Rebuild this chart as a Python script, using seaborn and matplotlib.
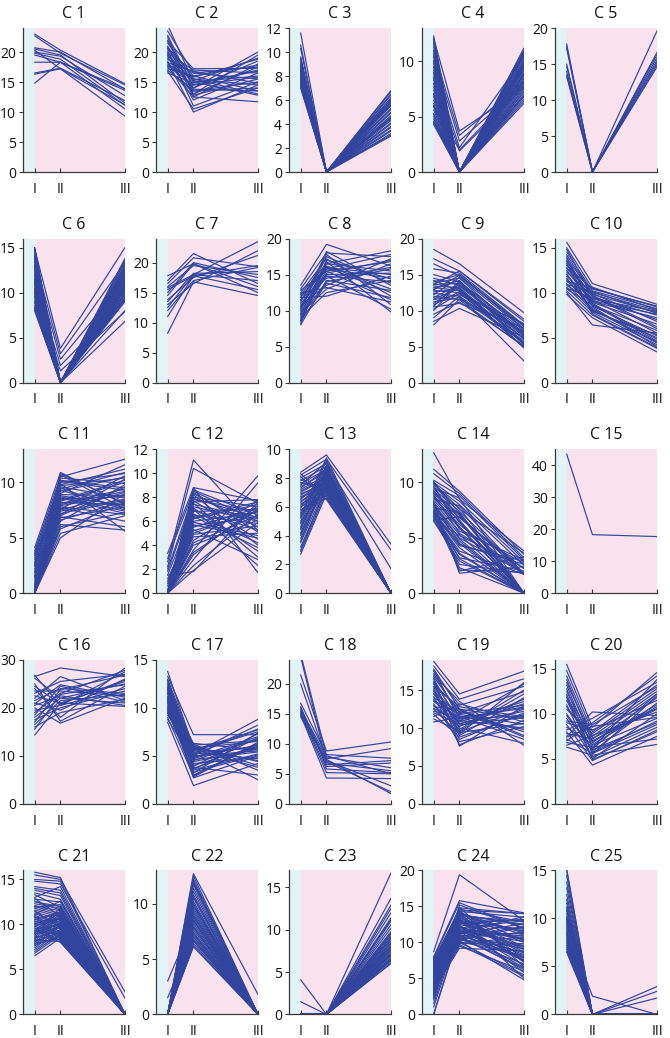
import matplotlib
matplotlib.use("Agg")
import matplotlib.pyplot as plt
import seaborn as sns
import pandas as pd

# ---------------- data: each tuple = one profile (stage I, stage II, stage III)
stages = ["I", "II", "III"]

C1 = [(23.0, 20.3, 14.7), (22.7, 19.8, 14.5), (20.7, 20.0, 13.8), (20.5, 19.5, 11.5),
      (20.0, 19.3, 12.7), (19.8, 18.8, 11.1), (19.5, 18.3, 10.5), (18.3, 18.3, 13.6),
      (16.5, 17.3, 11.9), (16.3, 17.2, 9.3), (14.8, 18.3, 13.9), (20.3, 17.2, 11.2)]
C2 = [(24.5, 15.0, 16.0), (23.5, 16.5, 17.5), (22.8, 14.0, 20.0), (22.0, 13.0, 19.5),
      (21.5, 15.5, 14.5), (21.0, 12.5, 18.0), (20.8, 16.0, 13.5), (20.5, 14.5, 17.0),
      (20.2, 11.0, 15.0), (20.0, 13.5, 14.0), (19.8, 17.0, 16.5), (19.5, 15.0, 12.8),
      (19.3, 12.0, 16.5), (19.0, 14.0, 18.5), (18.8, 16.5, 15.5), (18.5, 10.0, 14.5),
      (18.3, 13.0, 17.5), (18.0, 15.5, 13.0), (17.8, 14.5, 15.8), (17.5, 12.5, 11.7),
      (17.2, 16.0, 17.8), (17.0, 13.5, 15.0), (16.8, 10.5, 14.0), (16.5, 14.8, 16.8),
      (21.8, 17.2, 17.3), (20.6, 15.2, 19.0), (19.6, 13.8, 13.5), (18.2, 16.8, 14.8),
      (22.5, 12.8, 15.5), (17.6, 15.8, 18.8)]
C3 = [(11.6, 0, 6.8), (10.6, 0, 6.7), (10.3, 0, 6.5), (9.6, 0, 6.4), (9.4, 0, 6.2),
      (9.3, 0, 6.1), (9.1, 0, 6.0), (9.0, 0, 5.9), (8.9, 0, 5.7), (8.8, 0, 5.6),
      (8.7, 0, 5.5), (8.6, 0, 5.3), (8.5, 0, 5.2), (8.4, 0, 5.0), (8.3, 0, 4.9),
      (8.2, 0, 4.7), (8.1, 0, 4.6), (8.0, 0, 4.4), (7.9, 0, 4.3), (7.8, 0, 4.1),
      (7.7, 0, 4.0), (7.6, 0, 3.8), (7.5, 0, 3.7), (7.4, 0, 3.5), (7.3, 0, 3.4),
      (7.2, 0, 3.2), (7.1, 0, 3.1), (7.0, 0, 3.0), (9.5, 0, 5.8), (8.0, 0, 4.5)]
C4 = [(12.3, 0, 11.2), (12.0, 0, 10.9), (11.6, 0, 10.6), (11.3, 0, 11.0), (11.0, 0, 10.3),
      (10.7, 0, 10.0), (10.4, 0, 9.8), (10.1, 0, 10.5), (9.8, 0, 9.5), (9.5, 0, 9.2),
      (9.2, 0, 10.8), (8.9, 0, 9.0), (8.6, 0, 8.8), (8.3, 0, 9.6), (8.0, 0, 8.5),
      (7.7, 0, 8.2), (7.4, 0, 10.1), (7.1, 0, 8.0), (6.8, 0, 7.8), (6.5, 0, 9.3),
      (6.2, 0, 7.5), (5.9, 0, 7.2), (5.6, 0, 8.7), (5.3, 0, 7.0), (5.0, 0, 6.8),
      (4.8, 0, 9.9), (4.6, 0, 6.6), (4.4, 0, 6.4), (4.3, 0, 6.2), (4.5, 0, 8.4),
      (5.2, 0, 7.6), (6.0, 0, 9.7), (7.0, 0, 6.9), (8.0, 0, 10.7), (9.0, 0, 7.3),
      (10.0, 0, 8.9), (11.8, 0, 9.4), (12.1, 3.7, 7.6), (11.0, 3.3, 8.2), (10.5, 2.8, 7.9),
      (9.5, 2.2, 10.4), (8.5, 1.9, 7.7), (6.0, 2.0, 8.1)]
C5 = [(17.8, 0, 19.6), (17.5, 0, 16.6), (17.2, 0, 16.3), (15.0, 0, 15.9),
      (14.7, 0, 15.5), (14.0, 0, 15.2), (13.5, 0, 14.9), (13.3, 0, 14.6)]
C6 = [(15.0, 0, 13.8), (14.8, 0, 13.5), (14.5, 0, 13.2), (14.2, 0, 12.9), (14.0, 0, 12.6),
      (13.7, 0, 12.3), (13.4, 0, 12.0), (13.1, 0, 11.8), (12.8, 0, 11.5), (12.5, 0, 11.2),
      (12.2, 0, 11.0), (11.9, 0, 10.8), (11.6, 0, 10.5), (11.3, 0, 10.3), (11.0, 0, 10.0),
      (10.7, 0, 9.8), (10.4, 0, 9.5), (10.1, 0, 9.3), (9.8, 0, 9.0), (9.5, 0, 13.0),
      (9.2, 0, 12.5), (8.9, 0, 11.6), (8.6, 0, 10.9), (8.3, 0, 10.2), (8.1, 0, 9.6),
      (8.0, 0, 8.0), (9.0, 0, 6.8), (10.0, 0, 12.8), (11.0, 0, 9.1), (12.0, 0, 11.4),
      (13.0, 0, 10.6), (14.0, 0, 9.9), (15.0, 0, 12.2), (14.6, 0, 11.1), (13.5, 0, 10.4),
      (12.6, 0, 13.6), (11.5, 0, 12.1), (10.5, 0, 10.7), (9.6, 0, 11.9), (8.4, 0, 9.4),
      (14.9, 3.8, 15.0), (13.8, 3.2, 13.3), (12.9, 2.6, 11.3), (11.2, 1.9, 9.2), (10.2, 1.3, 7.9)]
C7 = [(17.8, 19.8, 15.0), (17.0, 21.5, 16.5), (16.5, 20.8, 19.3), (16.0, 19.5, 18.0),
      (15.8, 18.0, 23.5), (15.5, 17.8, 19.5), (14.5, 19.8, 16.0), (13.8, 17.5, 21.2),
      (13.0, 16.5, 22.0), (12.5, 18.0, 17.0), (12.0, 17.0, 19.2), (11.0, 17.8, 15.5),
      (8.2, 16.8, 14.5), (15.0, 20.0, 17.5), (13.5, 18.2, 18.5)]
C8 = [(13.5, 19.2, 16.2), (13.0, 18.0, 17.5), (12.5, 17.2, 12.0), (12.2, 16.5, 18.3),
      (12.0, 15.8, 14.5), (11.8, 16.2, 13.0), (11.5, 14.5, 16.0), (11.2, 17.8, 10.8),
      (11.0, 15.0, 15.2), (10.8, 13.5, 17.2), (10.5, 16.0, 12.5), (10.3, 14.8, 14.0),
      (10.0, 18.2, 13.5), (9.8, 15.5, 11.5), (9.6, 13.0, 16.5), (9.4, 16.8, 9.8),
      (9.2, 14.0, 15.8), (9.0, 12.5, 14.2), (8.8, 15.2, 17.0), (8.5, 13.8, 11.8),
      (8.2, 16.5, 15.5), (8.0, 14.2, 12.8), (11.8, 12.0, 14.8), (12.8, 15.5, 16.8),
      (10.2, 17.5, 13.8), (9.5, 14.8, 10.2), (11.4, 16.0, 15.0), (12.4, 13.2, 11.2),
      (10.6, 15.8, 17.8), (8.6, 17.0, 14.4)]
C9 = [(18.5, 16.5, 9.7), (17.2, 15.5, 8.5), (16.5, 14.8, 7.8), (15.8, 15.2, 8.0),
      (15.0, 14.0, 7.2), (14.5, 13.5, 6.8), (14.0, 15.0, 7.5), (13.8, 14.5, 6.5),
      (13.6, 13.8, 6.0), (13.4, 13.2, 5.5), (13.2, 12.8, 7.0), (13.0, 14.2, 5.2),
      (12.8, 12.5, 6.2), (12.6, 13.0, 4.8), (12.4, 12.0, 5.8), (12.2, 14.6, 7.4),
      (12.0, 11.5, 5.0), (11.8, 13.6, 6.6), (11.5, 12.2, 8.2), (11.2, 11.8, 5.6),
      (11.0, 13.4, 6.4), (10.8, 12.6, 4.9), (10.5, 11.0, 7.6), (10.2, 12.4, 5.4),
      (10.0, 13.9, 6.9), (9.5, 11.2, 5.1), (9.0, 12.0, 3.0), (8.5, 10.3, 6.3),
      (8.0, 11.6, 7.1), (13.6, 15.5, 8.8), (12.9, 14.9, 7.9), (11.6, 13.1, 4.9),
      (14.2, 12.7, 6.1), (10.6, 14.1, 5.3)]
C10 = [(15.6, 11.0, 8.7), (15.0, 10.5, 8.4), (14.5, 10.2, 8.2), (14.2, 9.8, 7.8),
       (13.8, 10.0, 8.0), (13.5, 9.5, 7.5), (13.2, 9.2, 5.5), (13.0, 10.4, 8.5),
       (12.8, 9.0, 7.2), (12.5, 8.8, 4.8), (12.3, 9.6, 6.0), (12.0, 8.5, 5.2),
       (11.8, 9.3, 7.9), (11.5, 8.2, 4.5), (11.3, 8.9, 6.5), (11.0, 8.0, 5.0),
       (10.8, 9.1, 7.6), (10.6, 7.8, 4.2), (10.4, 8.6, 5.8), (10.2, 7.5, 3.8),
       (10.0, 6.4, 5.5), (9.8, 7.2, 3.4), (12.7, 9.9, 6.8), (14.0, 8.4, 4.0),
       (11.2, 10.6, 8.1), (13.6, 8.7, 4.6), (10.5, 9.4, 7.0), (12.1, 7.9, 5.3),
       (14.8, 9.7, 6.2), (11.6, 8.1, 4.4), (10.9, 10.1, 7.7), (13.3, 7.6, 3.9)]
C11 = [(4.1, 10.9, 8.0), (3.8, 10.5, 12.1), (3.5, 10.2, 9.5), (3.2, 9.8, 11.2), (3.0, 9.5, 7.5),
       (2.8, 9.2, 10.5), (2.6, 8.9, 8.8), (2.4, 8.6, 7.2), (2.2, 8.3, 10.0), (2.0, 8.0, 9.2),
       (1.8, 7.7, 6.5), (1.6, 7.4, 8.5), (1.5, 7.1, 10.3), (0.0, 6.8, 7.8), (0.0, 6.5, 9.8),
       (0.0, 6.2, 5.7), (0.0, 5.8, 8.2), (0.0, 5.4, 7.0), (0.0, 5.0, 9.0), (0.0, 10.7, 7.6),
       (0.0, 10.0, 10.8), (0.0, 9.6, 8.6), (0.0, 9.0, 11.6), (0.0, 8.7, 7.4), (0.0, 8.1, 9.4),
       (0.0, 7.6, 10.6), (0.0, 7.2, 8.4), (0.0, 6.9, 6.0), (0.2, 10.4, 9.9), (0.5, 9.3, 7.7),
       (0.8, 8.4, 10.2), (1.0, 7.9, 8.9), (1.2, 7.0, 9.6), (0.3, 6.0, 7.3), (0.6, 10.8, 8.1),
       (2.5, 9.7, 10.4), (3.4, 8.8, 7.9), (1.9, 7.5, 9.1), (2.7, 6.6, 8.3), (3.6, 9.9, 5.6),
       (0.0, 9.4, 10.9), (0.0, 8.5, 8.7), (0.0, 7.8, 7.1), (0.4, 10.1, 9.3), (1.4, 8.2, 8.0)]
C12 = [(3.3, 8.8, 7.7), (2.9, 8.5, 6.0), (2.6, 11.1, 5.2), (2.2, 10.4, 7.5), (2.0, 8.2, 4.0),
       (1.8, 7.8, 6.8), (1.5, 1.8, 7.6), (1.5, 7.0, 2.3), (0.0, 8.6, 6.5), (0.0, 8.3, 5.5),
       (0.0, 8.0, 7.2), (0.0, 7.7, 4.5), (0.0, 7.4, 6.2), (0.0, 7.1, 3.5), (0.0, 6.8, 7.0),
       (0.0, 6.5, 5.8), (0.0, 6.2, 7.4), (0.0, 5.9, 4.8), (0.0, 5.6, 6.4), (0.0, 5.3, 2.8),
       (0.0, 5.0, 6.9), (0.0, 4.7, 5.0), (0.0, 4.4, 7.7), (0.0, 4.0, 6.1), (0.0, 3.6, 9.8),
       (0.0, 3.2, 7.3), (0.0, 2.8, 9.2), (0.0, 2.3, 6.6), (0.0, 1.9, 5.9), (0.0, 8.8, 1.7),
       (0.0, 7.5, 3.0), (0.0, 6.6, 4.2), (0.0, 6.0, 6.7), (0.0, 5.5, 7.1), (0.0, 4.9, 5.6),
       (0.3, 7.9, 6.3), (0.6, 6.9, 5.3), (1.0, 6.3, 7.6), (1.2, 5.7, 4.6), (0.8, 7.2, 6.0),
       (0.0, 8.4, 5.1), (0.0, 7.6, 7.8), (0.0, 6.4, 3.8), (0.0, 5.2, 6.8), (0.0, 4.2, 6.5),
       (0.0, 3.4, 7.0)]
C13 = [(8.4, 9.6, 3.4), (8.2, 9.3, 3.0), (8.0, 9.0, 1.7), (7.8, 8.8, 0), (7.6, 8.6, 0),
       (7.4, 8.4, 0), (7.2, 8.2, 0), (7.0, 8.0, 0), (6.8, 7.8, 0), (6.6, 7.6, 0),
       (6.4, 7.4, 0), (6.2, 7.2, 0), (6.0, 7.0, 0), (5.8, 6.8, 0), (5.6, 6.6, 0),
       (5.4, 9.4, 0), (5.2, 9.2, 0), (5.0, 8.9, 0), (4.8, 8.7, 0), (4.6, 8.5, 0),
       (4.4, 8.3, 0), (4.2, 8.1, 0), (4.0, 7.9, 0), (3.8, 7.7, 0), (3.5, 7.5, 0),
       (3.2, 7.3, 0), (2.9, 7.1, 0), (2.7, 6.9, 0), (8.3, 6.7, 0), (8.1, 6.5, 0),
       (7.9, 7.0, 0), (7.7, 7.2, 0), (7.5, 9.1, 0), (7.3, 8.6, 0), (7.1, 8.0, 0),
       (6.9, 7.6, 0), (6.7, 7.4, 0), (6.5, 8.2, 0), (6.3, 7.9, 0), (6.1, 7.3, 0),
       (5.9, 8.8, 0), (5.7, 7.1, 0), (5.5, 8.5, 0), (5.3, 7.8, 0), (4.9, 7.5, 0),
       (4.5, 8.4, 0), (4.1, 7.7, 0), (3.6, 8.1, 0), (3.0, 7.4, 0)]
C14 = [(12.7, 8.5, 3.8), (11.2, 9.2, 3.5), (10.8, 9.0, 3.2), (10.2, 8.8, 3.0), (10.0, 8.3, 2.8),
       (9.8, 8.0, 2.5), (9.6, 7.7, 0), (9.4, 7.4, 1.8), (9.2, 7.1, 0), (9.0, 6.8, 2.2),
       (8.8, 6.5, 0), (8.6, 6.2, 1.7), (8.4, 5.9, 0), (8.2, 5.6, 3.0), (8.0, 5.3, 0),
       (7.8, 5.0, 1.8), (7.6, 4.7, 0), (7.4, 4.4, 2.6), (7.2, 4.1, 0), (7.0, 3.8, 1.7),
       (6.8, 3.5, 0), (6.6, 3.2, 2.0), (6.5, 2.9, 0), (7.1, 2.6, 1.8), (7.5, 2.3, 0),
       (7.9, 2.0, 3.3), (8.3, 1.8, 2.4), (8.7, 6.0, 0), (9.1, 7.0, 1.7), (9.5, 8.6, 0),
       (9.9, 7.6, 3.6), (10.1, 6.6, 0), (8.9, 5.4, 1.8), (8.1, 4.9, 0), (7.3, 4.3, 2.9),
       (6.9, 3.6, 0), (7.7, 7.3, 0), (8.5, 7.9, 1.7), (9.3, 6.4, 0), (6.7, 5.2, 2.3),
       (7.0, 2.1, 1.9), (8.0, 4.5, 0), (9.7, 5.8, 2.7), (10.0, 7.2, 0), (6.6, 6.9, 1.8),
       (7.4, 3.1, 0)]
C15 = [(43.5, 18.3, 17.7)]
C16 = [(26.8, 20.5, 27.5), (26.5, 28.3, 26.5), (26.2, 22.0, 21.0), (25.0, 17.2, 24.5),
       (24.0, 18.0, 28.3), (23.5, 23.5, 22.5), (23.0, 25.5, 27.0), (22.5, 21.0, 25.5),
       (22.0, 26.5, 21.5), (21.5, 24.0, 23.0), (21.0, 19.5, 26.0), (20.5, 22.5, 20.5),
       (20.0, 16.8, 22.0), (19.5, 20.5, 24.0), (19.0, 23.0, 27.8), (18.5, 24.5, 21.2),
       (18.0, 22.0, 25.0), (17.5, 20.0, 23.5), (17.0, 23.8, 26.8), (16.5, 21.5, 22.8),
       (16.0, 19.0, 21.8), (15.5, 22.8, 24.8), (14.3, 21.0, 20.3), (24.5, 20.8, 25.8),
       (20.8, 24.8, 22.2)]
C17 = [(13.8, 5.8, 6.5), (13.3, 7.2, 7.2), (13.0, 6.0, 4.0), (12.8, 5.5, 7.5), (12.5, 5.0, 5.5),
       (12.2, 4.5, 6.8), (12.0, 6.2, 3.5), (11.8, 4.0, 6.0), (11.5, 5.2, 8.8), (11.2, 3.5, 5.2),
       (11.0, 5.8, 4.5), (10.8, 3.0, 6.2), (10.6, 4.8, 7.0), (10.4, 2.7, 5.0), (10.2, 6.1, 6.6),
       (10.0, 3.8, 3.0), (9.8, 5.4, 5.8), (9.6, 3.2, 7.4), (9.4, 4.2, 4.8), (9.2, 5.9, 2.5),
       (9.0, 2.9, 6.4), (8.8, 4.6, 5.4), (8.5, 1.9, 4.2), (11.4, 5.6, 7.7), (12.6, 4.4, 5.7),
       (10.9, 3.6, 6.9), (9.9, 6.0, 4.4), (11.9, 3.3, 5.1), (10.1, 5.1, 7.8), (12.9, 4.9, 6.1),
       (10.5, 5.7, 3.8), (11.6, 3.9, 7.3), (9.5, 4.7, 6.7), (12.3, 5.3, 4.7), (10.7, 6.3, 5.6),
       (11.1, 2.8, 6.3), (9.7, 5.0, 8.2), (12.1, 3.7, 5.9)]
C18 = [(25.0, 8.0, 5.0), (24.5, 7.0, 2.0), (21.5, 8.8, 10.3), (20.0, 7.5, 9.2),
       (16.8, 8.2, 7.6), (16.2, 6.2, 6.8), (15.8, 7.8, 6.0), (15.5, 6.8, 5.5),
       (15.2, 5.8, 5.2), (15.0, 5.2, 5.0), (14.8, 4.3, 4.2), (14.5, 7.2, 3.0),
       (16.0, 6.5, 7.2), (15.3, 7.4, 1.7)]
C19 = [(18.8, 14.5, 17.5), (18.2, 13.8, 16.5), (17.8, 12.5, 9.0), (17.5, 13.0, 15.5),
       (17.2, 11.5, 8.5), (16.8, 12.0, 14.8), (16.5, 10.5, 13.2), (16.2, 11.0, 10.0),
       (16.0, 9.5, 12.5), (15.8, 10.0, 8.0), (15.5, 12.8, 11.5), (15.2, 9.0, 14.0),
       (15.0, 8.5, 12.0), (14.8, 11.8, 10.5), (14.5, 10.8, 13.5), (14.2, 7.8, 11.0),
       (14.0, 12.2, 9.5), (13.8, 9.8, 15.0), (13.5, 11.2, 12.8), (13.2, 8.2, 10.2),
       (13.0, 10.2, 13.8), (12.8, 12.5, 11.2), (12.5, 9.2, 16.0), (12.2, 11.6, 9.8),
       (12.0, 10.6, 12.2), (11.8, 8.8, 11.8), (11.5, 13.2, 10.8), (11.2, 9.6, 14.5),
       (10.8, 11.4, 12.6), (16.6, 7.6, 12.9), (17.0, 13.5, 7.7), (15.4, 10.4, 11.4),
       (13.6, 11.9, 13.0), (14.6, 9.4, 10.6), (12.6, 10.9, 15.8), (15.9, 12.4, 8.8),
       (17.6, 11.2, 11.6)]
C20 = [(15.5, 8.5, 14.6), (14.8, 8.0, 13.2), (14.2, 7.5, 12.5), (13.8, 6.8, 11.8),
       (13.2, 6.2, 13.8), (12.8, 5.5, 12.0), (12.5, 7.0, 10.5), (12.0, 6.5, 9.5),
       (11.5, 5.8, 11.2), (11.0, 5.0, 10.0), (10.5, 7.8, 12.8), (10.0, 6.0, 9.0),
       (9.5, 5.2, 8.5), (9.0, 8.2, 11.5), (8.8, 4.8, 8.2), (8.5, 6.6, 10.8),
       (8.2, 9.5, 13.5), (8.0, 4.3, 7.5), (7.8, 7.2, 12.2), (7.5, 10.2, 9.8),
       (7.2, 5.6, 8.8), (7.0, 9.0, 14.2), (6.8, 6.3, 7.2), (6.5, 7.6, 10.2),
       (6.3, 5.4, 6.6), (9.2, 8.8, 13.0), (10.8, 6.9, 11.0), (11.8, 5.7, 9.2),
       (13.5, 7.3, 10.6), (9.8, 6.1, 12.2), (7.4, 8.6, 9.6), (12.2, 4.9, 8.0)]
C21 = [(15.8, 15.2, 0), (15.5, 15.0, 2.5), (15.0, 14.8, 0), (14.8, 14.5, 1.8), (14.2, 13.8, 0),
       (13.8, 13.2, 0), (13.5, 12.8, 0), (13.0, 14.2, 0), (12.8, 12.5, 0), (12.5, 12.0, 0),
       (12.3, 11.8, 0), (12.1, 11.5, 0), (12.0, 11.2, 0), (11.8, 11.0, 0), (11.6, 10.8, 0),
       (11.4, 10.5, 0), (11.2, 10.2, 0), (11.0, 10.0, 0), (10.8, 9.8, 0), (10.6, 9.5, 0),
       (10.4, 9.2, 0), (10.2, 9.0, 0), (10.0, 8.8, 0), (9.8, 8.5, 0), (9.6, 8.2, 0),
       (9.4, 8.0, 0), (9.2, 11.8, 0), (9.0, 11.5, 0), (8.8, 11.2, 0), (8.6, 11.0, 0),
       (8.4, 10.8, 0), (8.2, 10.5, 0), (8.0, 10.2, 0), (7.8, 10.0, 0), (7.6, 9.8, 0),
       (7.4, 9.5, 0), (7.2, 9.2, 0), (7.0, 9.0, 0), (6.8, 8.8, 0), (6.5, 8.5, 0),
       (11.9, 12.2, 0), (11.5, 9.6, 0), (11.1, 12.6, 0), (10.9, 8.6, 0), (10.5, 11.4, 0),
       (10.1, 10.6, 0), (9.9, 10.4, 0), (9.5, 9.9, 0), (9.3, 8.9, 0), (9.1, 10.1, 0),
       (8.9, 9.7, 0), (8.7, 8.3, 0), (8.5, 9.3, 0), (8.3, 8.1, 0), (8.1, 9.1, 0),
       (7.9, 8.4, 0), (7.7, 8.7, 0), (12.6, 11.6, 0), (12.9, 10.9, 0), (13.3, 11.9, 0),
       (14.0, 13.5, 0), (10.3, 10.7, 0), (10.7, 11.1, 0), (9.7, 11.3, 0)]
C22 = [(0, 12.7, 1.8), (0, 12.5, 0), (0, 12.2, 0), (0, 12.0, 0), (0, 11.7, 0), (0, 11.4, 0),
       (0, 11.1, 0), (0, 10.8, 0), (0, 10.5, 0), (0, 10.2, 0), (0, 10.0, 0), (0, 9.8, 0),
       (0, 9.6, 0), (0, 9.4, 0), (0, 9.2, 0), (0, 9.0, 0), (0, 8.8, 0), (0, 8.6, 0),
       (0, 8.4, 0), (0, 8.2, 0), (0, 8.0, 0), (0, 7.8, 0), (0, 7.6, 0), (0, 7.4, 0),
       (0, 7.2, 0), (0, 7.0, 0), (0, 6.8, 0), (0, 6.6, 0), (0, 6.4, 0), (0, 6.2, 0),
       (0, 6.1, 0), (0, 9.9, 0), (0, 8.9, 0), (0, 7.9, 0), (0, 7.3, 0), (0, 6.7, 0),
       (0, 11.9, 0), (0, 10.6, 0), (3.0, 8.5, 0), (1.5, 7.0, 0)]
C23 = [(4.1, 0, 8.0), (1.5, 0, 9.0), (0, 0, 16.7), (0, 0, 13.7), (0, 0, 12.9), (0, 0, 12.5),
       (0, 0, 12.0), (0, 0, 11.4), (0, 0, 11.0), (0, 0, 10.6), (0, 0, 10.2), (0, 0, 9.8),
       (0, 0, 9.5), (0, 0, 9.3), (0, 0, 9.1), (0, 0, 8.9), (0, 0, 8.7), (0, 0, 8.5),
       (0, 0, 8.3), (0, 0, 8.1), (0, 0, 7.9), (0, 0, 7.7), (0, 0, 7.5), (0, 0, 7.3),
       (0, 0, 7.1), (0, 0, 6.9), (0, 0, 6.7), (0, 0, 6.5), (0, 0, 6.3), (0, 0, 6.1),
       (0, 0, 6.0), (0, 0, 8.4), (0, 0, 7.6), (0, 0, 7.0), (0, 0, 6.6), (0, 0, 9.6),
       (0, 0, 8.0), (0, 0, 7.2), (0, 0, 6.4), (0, 0, 11.2)]
C24 = [(8.7, 19.4, 13.0), (8.0, 15.8, 14.1), (7.8, 15.5, 12.0), (7.6, 14.5, 14.0), (7.4, 14.3, 13.5),
       (7.2, 14.0, 11.0), (7.0, 13.8, 12.5), (6.8, 13.5, 10.0), (6.6, 13.2, 9.0), (6.4, 13.0, 11.8),
       (6.2, 12.8, 8.5), (6.0, 12.5, 10.5), (5.8, 12.3, 7.5), (5.6, 12.0, 13.0), (5.4, 11.8, 9.5),
       (5.2, 11.5, 6.5), (5.0, 11.3, 11.2), (4.8, 11.0, 8.0), (4.6, 10.8, 12.2), (4.4, 10.5, 7.0),
       (4.2, 10.3, 9.8), (4.0, 10.0, 5.5), (3.8, 9.8, 10.8), (3.6, 9.5, 6.0), (3.4, 9.2, 8.8),
       (3.2, 14.6, 12.8), (3.0, 14.2, 10.2), (2.8, 13.9, 7.8), (2.6, 13.6, 11.5), (2.4, 13.3, 5.0),
       (2.2, 12.9, 9.2), (2.0, 12.6, 13.2), (1.5, 12.2, 6.8), (1.0, 11.9, 10.6), (0.0, 11.6, 8.3),
       (0.0, 11.2, 12.6), (7.9, 10.9, 6.2), (7.7, 10.6, 11.4), (7.5, 10.2, 4.8), (7.3, 9.9, 9.6),
       (7.1, 14.8, 14.0), (6.9, 14.4, 7.2), (6.7, 13.7, 12.9), (6.5, 13.1, 8.7), (6.3, 12.7, 11.6),
       (6.1, 12.4, 5.8), (5.9, 12.1, 10.4), (5.7, 11.7, 7.4), (5.5, 11.4, 13.6), (5.3, 11.1, 9.1),
       (5.1, 10.7, 6.4), (4.9, 10.4, 12.1), (4.7, 10.1, 8.2), (4.5, 9.7, 5.3), (4.3, 14.1, 11.3),
       (4.1, 13.4, 9.4), (3.9, 12.9, 13.1), (3.7, 12.3, 7.6), (3.5, 11.5, 10.9), (3.3, 10.9, 8.6),
       (2.9, 15.2, 11.9), (2.5, 14.9, 6.6), (7.0, 11.6, 10.1), (6.4, 10.6, 7.9), (5.2, 13.9, 12.4)]
C25 = [(15.2, 0, 0), (15.0, 0, 0), (14.5, 0, 0), (13.8, 0, 0), (13.2, 0, 0), (12.5, 0, 0),
       (12.0, 0, 0), (11.6, 0, 0), (11.2, 0, 0), (10.8, 0, 0), (10.5, 0, 0), (10.2, 0, 0),
       (10.0, 0, 0), (9.8, 0, 0), (9.6, 0, 0), (9.4, 0, 0), (9.2, 0, 0), (8.8, 0, 0),
       (8.6, 0, 0), (8.4, 0, 0), (8.2, 0, 0), (8.0, 0, 0), (7.8, 0, 0), (7.6, 0, 0),
       (7.4, 0, 0), (7.2, 0, 0), (7.0, 0, 0), (6.8, 0, 0), (6.6, 0, 0), (6.5, 0, 0),
       (9.0, 1.9, 0), (11.0, 0, 2.9), (8.5, 0, 2.4), (10.0, 0, 1.7)]

clusters = [C1, C2, C3, C4, C5, C6, C7, C8, C9, C10, C11, C12, C13, C14, C15,
            C16, C17, C18, C19, C20, C21, C22, C23, C24, C25]
titles = [f"C {i}" for i in range(1, 26)]
y_max = [24, 24, 12, 13, 20, 16, 24, 20, 20, 16, 13, 12, 10, 13, 45,
         30, 15, 24, 19, 16, 16, 13, 17, 20, 15]
y_step = [5, 5, 2, 5, 5, 5, 5, 5, 5, 5, 5, 2, 2, 5, 10,
          10, 5, 5, 5, 5, 5, 5, 5, 5, 5]

# ---------------- long-form table
stage_pos = {"I": 0.0, "II": 2.0, "III": 7.0}
rows = []
for ci, cl in enumerate(clusters):
    for li, prof in enumerate(cl):
        for st, v in zip(stages, prof):
            rows.append({"cluster": titles[ci], "line": li, "stage": st,
                         "pos": stage_pos[st], "value": v})
df = pd.DataFrame(rows)

# ---------------- style
sns.set_theme(style="ticks")
plt.rcParams["font.family"] = ["Open Sans", "DejaVu Sans"]

LINE = "#31449e"
PINK = "#f8e2ee"
CYAN = "#e2f3f5"
SPINE = "#3a3a3a"

W, H = 670, 1038
fig = plt.figure(figsize=(W / 100, H / 100), dpi=100)

ax_w, ax_h = 102, 144
col_left = [23 + 133 * c for c in range(5)]
row_bottom = [172 + 210.6 * r for r in range(5)]  # pixel y of the axis bottom

for i in range(25):
    r, c = divmod(i, 5)
    left = col_left[c] / W
    bottom = (H - row_bottom[r]) / H
    ax = fig.add_axes([left, bottom, ax_w / W, ax_h / H])
    ax.axvspan(-0.9, 0.0, color=CYAN, lw=0, zorder=0)
    ax.axvspan(0.0, 7.0, color=PINK, lw=0, zorder=0)
    sub = df[df["cluster"] == titles[i]]
    sns.lineplot(data=sub, x="pos", y="value", units="line", estimator=None,
                 color=LINE, lw=0.85, sort=False, legend=False, ax=ax, zorder=2)
    ax.set_xlim(-0.9, 7.0)
    ax.set_ylim(0, y_max[i])
    ax.set_xticks([stage_pos[s] for s in stages])
    ax.set_xticklabels(stages)
    step = y_step[i]
    ax.set_yticks(list(range(0, y_max[i] + 1, step)))
    ax.set_xlabel("")
    ax.set_ylabel("")
    ax.set_title(titles[i], fontsize=11.5, pad=7, color="#111111")
    for s in ["top", "right"]:
        ax.spines[s].set_visible(False)
    for s in ["left", "bottom"]:
        ax.spines[s].set_color(SPINE)
        ax.spines[s].set_linewidth(0.9)
    ax.tick_params(axis="y", direction="out", length=3, width=0.8, pad=2,
                   labelsize=10, colors=SPINE, labelcolor="#111111")
    ax.tick_params(axis="x", direction="in", length=3, width=0.8, pad=7,
                   labelsize=10, colors=SPINE, labelcolor="#111111")
    ax.set_facecolor("white")

fig.savefig("out.png", dpi=100)
